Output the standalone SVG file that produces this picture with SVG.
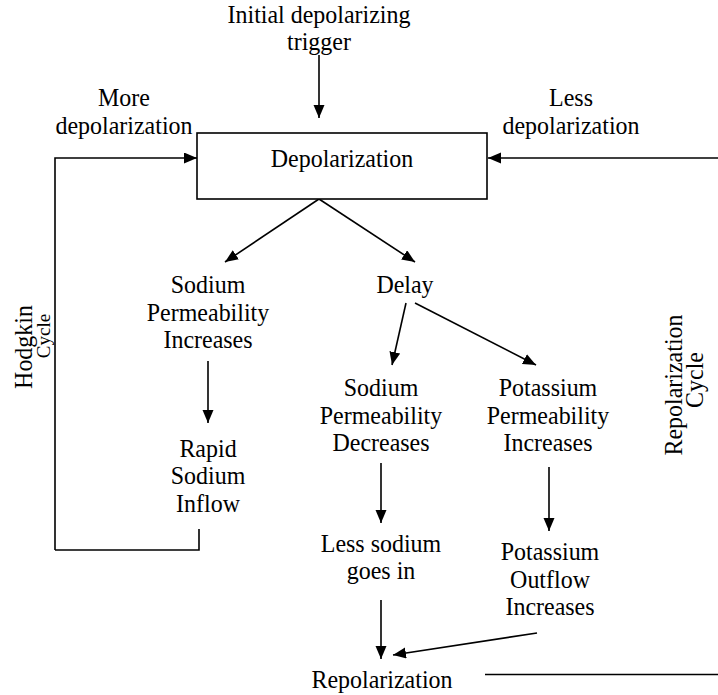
<svg xmlns="http://www.w3.org/2000/svg" width="718" height="695" viewBox="0 0 718 695" font-family="'Liberation Serif', 'Times New Roman', serif">
  <style>
    text { font-family: "Liberation Serif", "Times New Roman", serif; font-size: 25.5px; fill: #000; text-anchor: middle; }
    .small { font-size: 19px; }
    .line { fill: none; stroke: #000; stroke-width: 1.6; }
    .arrow { fill: none; stroke: #000; stroke-width: 1.6; marker-end: url(#head); }
    .box { fill: #fff; stroke: #000; stroke-width: 1.6; }
  </style>
  <defs>
    <marker id="head" markerUnits="userSpaceOnUse" markerWidth="14" markerHeight="12" refX="13" refY="5.5" orient="auto">
      <path d="M0,0 L13,5.5 L0,11 z" fill="#000"/>
    </marker>
  </defs>
  <rect width="718" height="695" fill="#fff"/>

  <!-- connectors -->
  <g id="connectors">
    <line class="arrow" x1="319" y1="55" x2="319" y2="118"/>
    <polyline class="arrow" points="55,550 55,158 197,158"/>
    <polyline class="line" points="55,550 199,550 199,529"/>
    <line class="arrow" x1="718" y1="158" x2="488" y2="158"/>
    <line class="arrow" x1="319" y1="199" x2="225" y2="262"/>
    <line class="arrow" x1="319" y1="199" x2="415" y2="262"/>
    <line class="arrow" x1="208" y1="361" x2="208" y2="423"/>
    <line class="arrow" x1="406" y1="303" x2="392" y2="365"/>
    <line class="arrow" x1="415" y1="303" x2="536" y2="365"/>
    <line class="arrow" x1="381" y1="463" x2="381" y2="523"/>
    <line class="arrow" x1="549" y1="467" x2="549" y2="531"/>
    <line class="arrow" x1="381" y1="600" x2="381" y2="659"/>
    <line class="arrow" x1="537" y1="633" x2="393" y2="655"/>
    <line class="line" x1="485" y1="674.5" x2="718" y2="674.5"/>
  </g>

  <!-- labels are narrowed slightly with scale(0.94,1) -->
  <g id="trigger">
    <text transform="translate(319,23) scale(0.94,1)">Initial depolarizing</text>
    <text transform="translate(319,50) scale(0.94,1)">trigger</text>
  </g>
  <g id="more-depolarization">
    <text transform="translate(124,106) scale(0.94,1)">More</text>
    <text transform="translate(124,134) scale(0.94,1)">depolarization</text>
  </g>
  <g id="less-depolarization">
    <text transform="translate(571,106) scale(0.94,1)">Less</text>
    <text transform="translate(571,134) scale(0.94,1)">depolarization</text>
  </g>
  <g id="depolarization">
    <rect class="box" x="197" y="133" width="290" height="66"/>
    <text transform="translate(342,167) scale(0.94,1)">Depolarization</text>
  </g>
  <g id="sodium-permeability-increases">
    <text transform="translate(208,293) scale(0.94,1)">Sodium</text>
    <text transform="translate(208,320.5) scale(0.94,1)">Permeability</text>
    <text transform="translate(208,348) scale(0.94,1)">Increases</text>
  </g>
  <g id="delay">
    <text transform="translate(405,293) scale(0.94,1)">Delay</text>
  </g>
  <g id="rapid-sodium-inflow">
    <text transform="translate(208,457) scale(0.94,1)">Rapid</text>
    <text transform="translate(208,484) scale(0.94,1)">Sodium</text>
    <text transform="translate(208,512) scale(0.94,1)">Inflow</text>
  </g>
  <g id="sodium-permeability-decreases">
    <text transform="translate(381,396) scale(0.94,1)">Sodium</text>
    <text transform="translate(381,423.5) scale(0.94,1)">Permeability</text>
    <text transform="translate(381,451) scale(0.94,1)">Decreases</text>
  </g>
  <g id="potassium-permeability-increases">
    <text transform="translate(548,396) scale(0.94,1)">Potassium</text>
    <text transform="translate(548,423.5) scale(0.94,1)">Permeability</text>
    <text transform="translate(548,451) scale(0.94,1)">Increases</text>
  </g>
  <g id="less-sodium">
    <text transform="translate(381,552) scale(0.94,1)">Less sodium</text>
    <text transform="translate(381,579) scale(0.94,1)">goes in</text>
  </g>
  <g id="potassium-outflow">
    <text transform="translate(550,560) scale(0.94,1)">Potassium</text>
    <text transform="translate(550,588) scale(0.94,1)">Outflow</text>
    <text transform="translate(550,615) scale(0.94,1)">Increases</text>
  </g>
  <g id="repolarization">
    <text transform="translate(382,688) scale(0.94,1)">Repolarization</text>
  </g>
  <g id="hodgkin-cycle">
    <text transform="translate(32,347) rotate(-90) scale(0.94,1)">Hodgkin</text>
    <text class="small" transform="translate(50,336) rotate(-90)">Cycle</text>
  </g>
  <g id="repolarization-cycle">
    <text transform="translate(682,385) rotate(-90) scale(0.94,1)">Repolarization</text>
    <text transform="translate(703,380) rotate(-90) scale(0.94,1)">Cycle</text>
  </g>
</svg>
